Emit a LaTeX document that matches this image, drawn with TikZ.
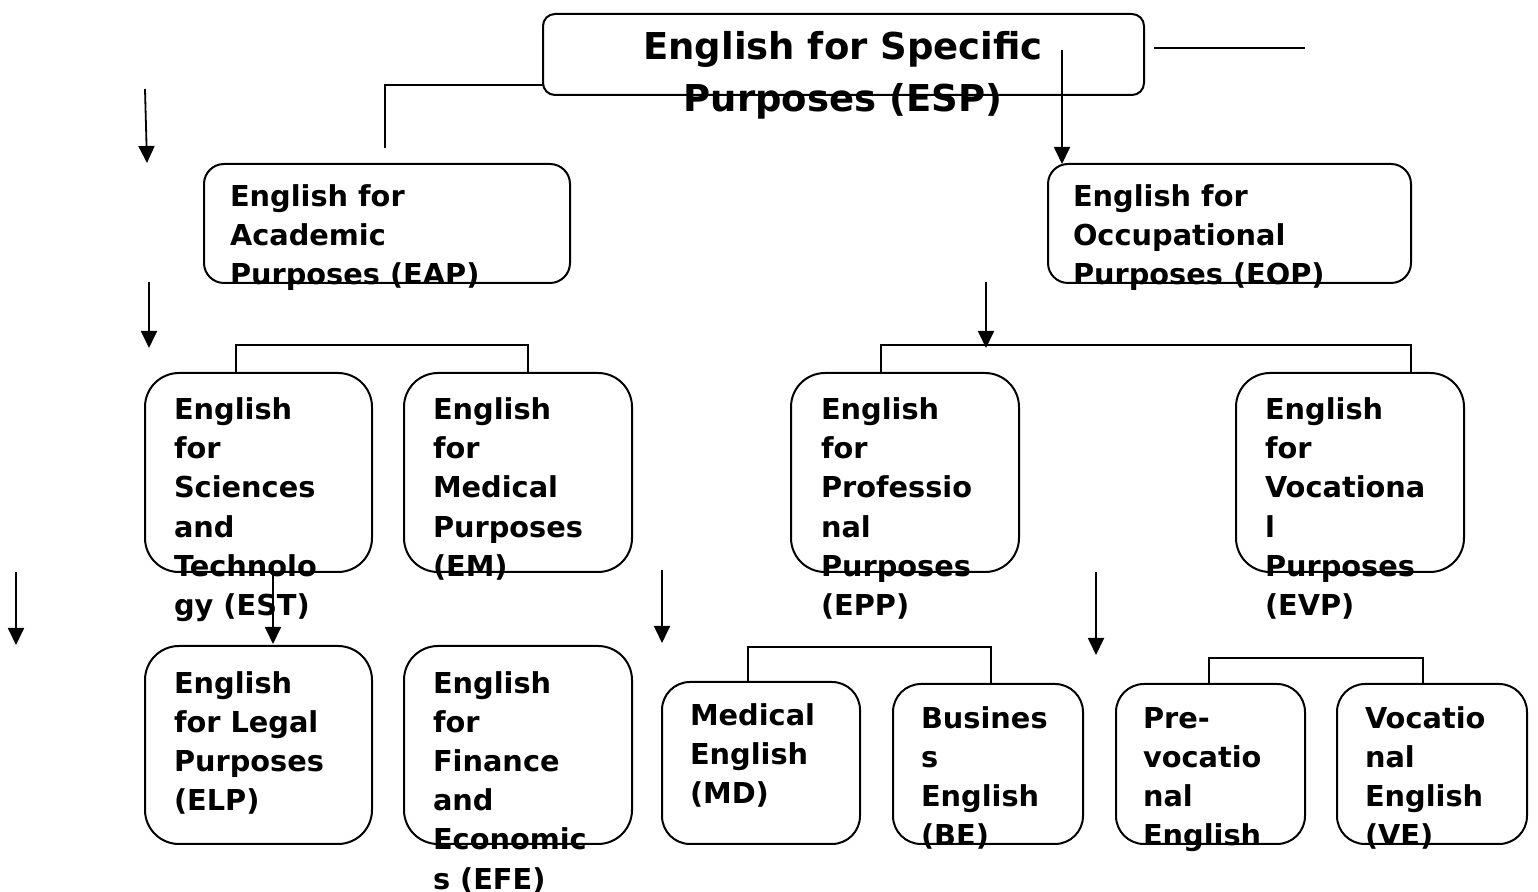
\documentclass[tikz,border=0pt]{standalone}
\usepackage{fontspec}
\setmainfont{DejaVu Sans}
\usetikzlibrary{arrows.meta,fit}
\newcommand\firstln{\rule{0pt}{0.76em}}
\begin{document}
\begin{tikzpicture}[x=0.5pt,y=-0.5pt,
  box/.style={draw, line width=1pt, rounded corners=#1, inner sep=0pt, outer sep=0pt},
  box/.default=14pt,
  txt/.style={anchor=north west, inner sep=0pt, outer sep=0pt, align=left,
    font=\fontsize{14.4pt}{19.6pt}\selectfont\bfseries, yshift=10.94pt},
  ttl/.style={anchor=north, inner sep=0pt, outer sep=0pt, align=center,
    font=\fontsize{18.5pt}{26pt}\selectfont\bfseries, yshift=14.06pt},
  ln/.style={line width=0.9pt},
  arr/.style={line width=0.9pt, -{Triangle[length=8.5pt,width=8pt]}}]
\useasboundingbox (0,0) rectangle (1538,892);

% boxes
\node[box=6pt, fit={(543,14) (1144,95)}] (esp) {};
\node[box=10pt, fit={(204,164) (570,283)}] (eap) {};
\node[box=10pt, fit={(1048,164) (1411,283)}] (eop) {};
\node[box=17pt, fit={(145,373) (372,572)}] (est) {};
\node[box=17pt, fit={(404,373) (632,572)}] (em) {};
\node[box=17pt, fit={(791,373) (1019,572)}] (epp) {};
\node[box=17pt, fit={(1236,373) (1464,572)}] (evp) {};
\node[box=17pt, fit={(145,646) (372,844)}] (elp) {};
\node[box=17pt, fit={(404,646) (632,844)}] (efe) {};
\node[box=14pt, fit={(662,682) (860,844)}] (md) {};
\node[box=14pt, fit={(893,684) (1083,844)}] (be) {};
\node[box=14pt, fit={(1116,684) (1305,844)}] (pre) {};
\node[box=14pt, fit={(1337,684) (1527,844)}] (ve) {};

% connectors
\coordinate (t1) at (385,148);
\coordinate (t0) at (543,85);
\draw[ln] (t1) |- (t0);
\coordinate (h0) at (1154,48);
\coordinate (h1) at (1305,48);
\draw[ln] (h0) -- (h1);

\coordinate (a1s) at (145,89);
\coordinate (a1e) at (147,163);
\draw[arr] (a1s) -- (a1e);
\coordinate (a2s) at (1062,50);
\draw[arr] (a2s) -- (a2s |- eop.north);
\coordinate (a3s) at (149,282);
\coordinate (a3e) at (149,348);
\draw[arr] (a3s) -- (a3e);
\coordinate (a4s) at (986,282);
\coordinate (a4e) at (986,348);
\draw[arr] (a4s) -- (a4e);
\coordinate (a5s) at (16,572);
\coordinate (a5e) at (16,645);
\draw[arr] (a5s) -- (a5e);
\coordinate (a6) at (273,0);
\draw[arr] (a6 |- est.south) -- ([yshift=1pt]a6 |- elp.north);
\coordinate (a7s) at (662,570);
\coordinate (a7e) at (662,643);
\draw[arr] (a7s) -- (a7e);
\coordinate (a8s) at (1096,572);
\coordinate (a8e) at (1096,655);
\draw[arr] (a8s) -- (a8e);

\coordinate (k1) at (236,345);
\coordinate (k2) at (528,345);
\draw[ln] (k1 |- est.north) -- (k1) -- (k2) -- (k2 |- em.north);
\coordinate (k3) at (881,345);
\coordinate (k4) at (1411,345);
\draw[ln] (k3 |- epp.north) -- (k3) -- (k4) -- (k4 |- evp.north);
\coordinate (k5) at (748,647);
\coordinate (k6) at (991,647);
\draw[ln] (k5 |- md.north) -- (k5) -- (k6) -- (k6 |- be.north);
\coordinate (k7) at (1209,658);
\coordinate (k8) at (1423,658);
\draw[ln] (k7 |- pre.north) -- (k7) -- (k8) -- (k8 |- ve.north);

% texts
\node[ttl] (tesp) at (843,60) {\firstln English for Specific\\Purposes (ESP)};
\node[txt] (teap) at (230,206) {\firstln English for\\Academic\\Purposes (EAP)};
\node[txt] (teop) at (1073,206) {\firstln English for\\Occupational\\Purposes (EOP)};
\node[txt] (test) at (174,419.5) {\firstln English\\for\\Sciences\\and\\Technolo\\gy (EST)};
\node[txt] (tem) at (433,419.5) {\firstln English\\for\\Medical\\Purposes\\(EM)};
\node[txt] (tepp) at (821,419.5) {\firstln English\\for\\Professio\\nal\\Purposes\\(EPP)};
\node[txt] (tevp) at (1265,419.5) {\firstln English\\for\\Vocationa\\l\\Purposes\\(EVP)};
\node[txt] (telp) at (174,693) {\firstln English\\for Legal\\Purposes\\(ELP)};
\node[txt] (tefe) at (433,693) {\firstln English\\for\\Finance\\and\\Economic\\s (EFE)};
\node[txt] (tmd) at (690,725) {\firstln Medical\\English\\(MD)};
\node[txt] (tbe) at (921,728) {\firstln Busines\\s\\English\\(BE)};
\node[txt] (tpre) at (1143,728) {\firstln Pre-\\vocatio\\nal\\English};
\node[txt] (tve) at (1365,728) {\firstln Vocatio\\nal\\English\\(VE)};
\end{tikzpicture}
\end{document}
